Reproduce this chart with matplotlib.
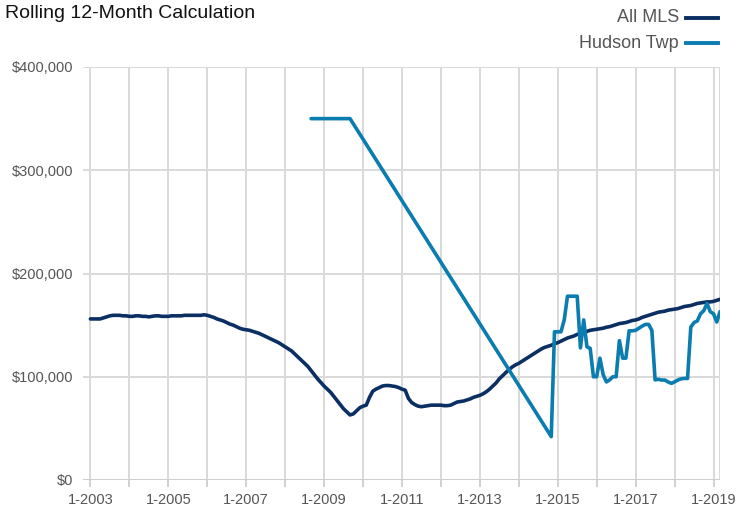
import matplotlib
matplotlib.use("Agg")
import matplotlib.pyplot as plt
from matplotlib.lines import Line2D
import numpy as np

plt.rcParams['font.family'] = ['Liberation Sans', 'DejaVu Sans']

# All MLS monthly values (thousands of $), 1-2003 .. 3-2019
mls_2003 = [156, 156, 156, 156, 157, 158, 159, 159.5, 159.5, 159.5, 159, 159]
mls_2004 = [158.5, 158.5, 159, 159, 158.5, 158.5, 158, 158.5, 159, 159, 158.5, 158.5]
mls_2005 = [158.5, 159, 159, 159, 159, 159.5, 159.5, 159.5, 159.5, 159.5, 159.5, 160]
mls_2006 = [159.5, 158.5, 157.5, 156, 155, 154, 152.5, 151, 150, 148.5, 147, 146]
mls_2007 = [145.5, 145, 144, 143, 142, 140.5, 139, 137.5, 136, 134.5, 133, 131]
mls_2008 = [129, 127, 125, 122, 119, 116, 113, 110, 106, 102, 98, 94.5]
mls_2009 = [91, 88, 85, 81, 77, 73, 69, 66, 63, 64, 67, 70]
mls_2010 = [71.5, 72.5, 80, 86, 88, 89.5, 91, 91.5, 91.5, 91, 90.5, 89.5]
mls_2011 = [88, 87, 79, 75, 73, 71.5, 71, 71.5, 72, 72.5, 72.5, 72.5]
mls_2012 = [72.5, 72, 72, 72.5, 74, 75.5, 76, 76.5, 77.5, 78.5, 80, 81]
mls_2013 = [82, 83.5, 85.5, 88, 91, 94, 98, 101, 104, 107, 109.5, 111.5]
mls_2014 = [113, 115, 117, 119, 121, 123, 125, 127, 128.5, 129.5, 130.5, 132]
mls_2015 = [133, 134.5, 136, 137.5, 138.5, 139.5, 141, 142, 143, 144, 145, 145.5]
mls_2016 = [146, 146.5, 147, 148, 148.5, 149.5, 150.5, 151.5, 152, 152.5, 153.5, 154.5]
mls_2017 = [155, 156, 157.5, 158.5, 159.5, 160.5, 161.5, 162.5, 163, 163.5, 164.5, 165]
mls_2018 = [165.5, 166, 167, 168, 168.5, 169, 170, 171, 171.5, 172, 172.5, 172.5]
mls_2019 = [173, 174, 175]

# Hudson Twp: (year, month, value in thousands); gap 10-2009..10-2014 is connected
hudson_dates = [
    (2008, 9), (2008, 10), (2008, 11), (2008, 12), (2009, 1), (2009, 2), (2009, 3),
    (2009, 4), (2009, 5), (2009, 6), (2009, 7), (2009, 8), (2009, 9),
    (2014, 11), (2014, 12),
    (2015, 1), (2015, 2), (2015, 3), (2015, 4), (2015, 5), (2015, 6), (2015, 7),
    (2015, 8), (2015, 9), (2015, 10), (2015, 11), (2015, 12),
    (2016, 1), (2016, 2), (2016, 3), (2016, 4), (2016, 5), (2016, 6), (2016, 7),
    (2016, 8), (2016, 9), (2016, 10), (2016, 11), (2016, 12),
    (2017, 1), (2017, 2), (2017, 3), (2017, 4), (2017, 5), (2017, 6), (2017, 7),
    (2017, 8), (2017, 9), (2017, 10), (2017, 11), (2017, 12),
    (2018, 1), (2018, 2), (2018, 3), (2018, 4), (2018, 5), (2018, 6), (2018, 7),
    (2018, 8), (2018, 9), (2018, 10), (2018, 11), (2018, 12),
    (2019, 1), (2019, 2), (2019, 3),
]
hudson_values = [
    350, 350, 350, 350, 350, 350, 350, 350, 350, 350, 350, 350, 350,
    42, 143.5,
    143.5, 143.5, 155, 178, 178, 178, 178,
    128, 155, 129, 127.5, 100,
    100, 118, 102, 95, 97, 100, 100,
    135, 118, 118, 144.5, 144.5,
    145, 147, 149, 150.7, 150.7, 145, 97,
    97.5, 96.8, 96.8, 95, 93.6,
    95, 96.8, 98, 98.4, 98.4, 148, 152.5,
    154, 161, 164, 171, 163,
    161, 153, 163,
]

y_ticks = [0, 100000, 200000, 300000, 400000]
y_labels = ["$0", "$100,000", "$200,000", "$300,000", "$400,000"]
x_label_years = list(range(2003, 2020, 2))
x_labels = ["1-%d" % y for y in x_label_years]

title = "Rolling 12-Month Calculation"
series_names = ["All MLS", "Hudson Twp"]
colors = ["#0b2f63", "#0a7cb0"]

mls_all = (mls_2003 + mls_2004 + mls_2005 + mls_2006 + mls_2007 + mls_2008 +
           mls_2009 + mls_2010 + mls_2011 + mls_2012 + mls_2013 + mls_2014 +
           mls_2015 + mls_2016 + mls_2017 + mls_2018 + mls_2019)
mls_t = 2003 + np.arange(len(mls_all)) / 12.0
mls_v = np.array(mls_all) * 1000

hud_t = np.array([y + (m - 1) / 12.0 for y, m in hudson_dates])
hud_v = np.array(hudson_values) * 1000

fig = plt.figure(figsize=(7.38, 5.15), dpi=100)
ax = fig.add_axes([83 / 738, 1 - 480 / 515, (720 - 83) / 738, (480 - 67) / 515])

grid_c = "#d9d9d9"
for yv in y_ticks[1:]:
    ax.axhline(yv, color=grid_c, lw=1.4, zorder=1)
for yr in range(2003, 2020):
    ax.axvline(yr, color=grid_c, lw=1.4, zorder=1)
ax.axvline(2019 + 2 / 12.0, color=grid_c, lw=1.4, zorder=1)
ax.axhline(0, color="#cfcfcf", lw=2.2, zorder=1)

ax.plot(mls_t, mls_v, color=colors[0], lw=2.6, solid_capstyle="round",
        solid_joinstyle="round", zorder=3)
ax.plot(hud_t, hud_v, color=colors[1], lw=2.6, solid_capstyle="round",
        solid_joinstyle="round", zorder=4)

ax.set_xlim(2002.81, 2019 + 2 / 12.0)
ax.set_ylim(0, 400000)
for s in ax.spines.values():
    s.set_visible(False)

ax.set_yticks(y_ticks)
ax.set_yticklabels(y_labels)
ax.set_xticks(list(range(2003, 2020)))
ax.set_xticklabels([("1-%d" % y if y in x_label_years else "") for y in range(2003, 2020)])
ax.tick_params(axis="y", length=0, pad=7, labelsize=10.5, labelcolor="#555555")
ax.tick_params(axis="x", length=5, width=1.4, color="#d0d0d0", pad=4,
               labelsize=10.5, labelcolor="#555555")

fig.text(5 / 738, 1 - 13 / 515, title, fontsize=14, color="#111111",
         ha="left", va="center")

leg_y = [18, 43]
for name, c, yy in zip(series_names, colors, leg_y):
    fig.text(679 / 738, 1 - yy / 515, name, fontsize=13, color="#555555",
             ha="right", va="center")
    fig.add_artist(Line2D([686 / 738, 718 / 738], [1 - yy / 515, 1 - yy / 515],
                          color=c, lw=2.8, transform=fig.transFigure))

fig.savefig("out.png", dpi=100)
